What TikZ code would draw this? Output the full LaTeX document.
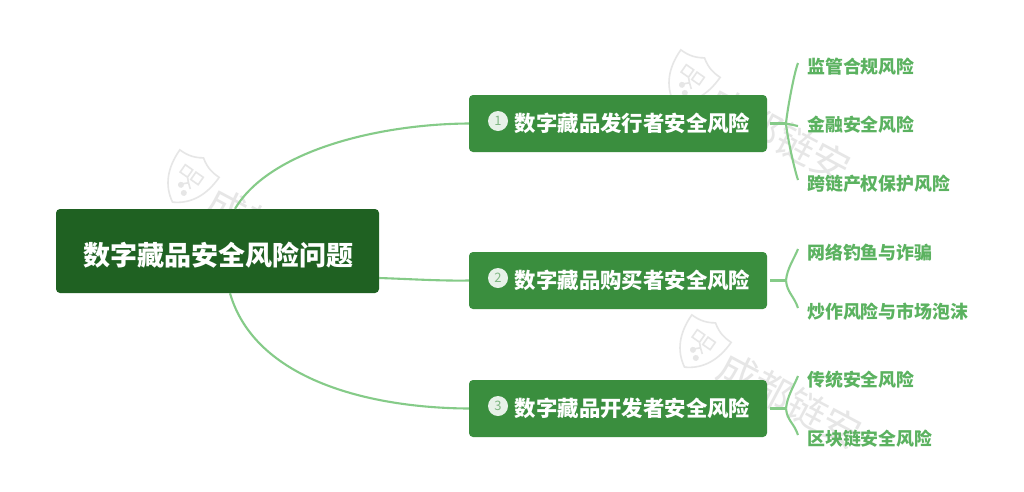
\documentclass[tikz,border=0pt]{standalone}
\usepackage{fontspec}
\setmainfont{Noto Sans CJK SC}
\usepackage{xcolor}
\definecolor{rootgreen}{HTML}{1F6122}
\definecolor{branchgreen}{HTML}{3A8E3E}
\definecolor{linegreen}{HTML}{85CB88}
\definecolor{leafgreen}{HTML}{5BB260}
\definecolor{markgray}{HTML}{E6E6E6}
\tikzset{
 rootbox/.style={fill=rootgreen,rounded corners=4pt,minimum width=323pt,minimum height=84pt,inner sep=0pt,
  text height=28pt,text depth=0pt,text=white,font=\fontsize{27}{27}\selectfont\bfseries},
 branchbox/.style={fill=branchgreen,rounded corners=4pt,minimum width=298pt,minimum height=57pt,inner sep=0pt,
  text=white,font=\fontsize{21.4}{21.4}\selectfont\bfseries},
 numdot/.style={circle,fill=white!88!branchgreen,minimum size=20pt,inner sep=0pt,
  text=branchgreen!65,font=\fontsize{13}{13}\selectfont},
 leaf/.style={anchor=west,inner xsep=9pt,inner ysep=0pt,text=leafgreen,font=\fontsize{17.9}{17.9}\selectfont\bfseries},
 link/.style={draw=linegreen,line width=2.1pt},
 shieldmark/.pic={
  \draw[markgray,line width=1.6pt,rotate=-35] (0,-27) .. controls (10,-20) and (18,-20) .. (24,-20)
   .. controls (24,2) and (16,18) .. (0,27) .. controls (-16,18) and (-24,2) .. (-24,-20)
   .. controls (-18,-20) and (-10,-20) .. (0,-27) -- cycle;
  \draw[markgray,line width=1.6pt,rotate=-35] (-11,-11) rectangle (-2,-2) (2,-11) rectangle (11,-2)
   (-2,-2) -- (2,2) (2,2) -- (7,6) (-2,6) -- (2,2);
  \fill[markgray,rotate=-35] (-3,8) circle (3) (4,13) circle (3);
  \node[rotate=-28,text=markgray,font=\fontsize{39}{39}\selectfont,inner sep=0pt] at (90,55) {成都链安};
 },
}
\begin{document}
\begin{tikzpicture}[x=1pt,y=-1pt]
    \useasboundingbox (0,0) rectangle (1024,491);
    \fill[white] (0,0) rectangle (1024,491);

    \pic at (188,180) {shieldmark};
    \pic at (689,80) {shieldmark};
    \pic at (700,345) {shieldmark};

    \node[rootbox] (root) at (217.5,251) {\hspace*{2pt}数字藏品安全风险问题};

    \foreach \y/\name/\txt[count=\i] in {123.5/dev/发行, 280.5/buy/购买, 408.5/make/开发} {
        \node[branchbox] (\name) at (618,\y) {\hspace*{29pt}数字藏品\txt 者安全风险};
        \node[numdot] (dot\i) at ([xshift=-120pt,yshift=2.5pt]\name.center) {\i};
    }

    \node[leaf] (rule) at (798,67) {监管合规风险};
    \node[leaf] (fin) at (798,125) {金融安全风险};
    \node[leaf] (cross) at (798,184) {跨链产权保护风险};
    \node[leaf] (phish) at (798,253) {网络钓鱼与诈骗};
    \node[leaf] (hype) at (798,312) {炒作风险与市场泡沫};
    \node[leaf] (trad) at (798,380) {传统安全风险};
    \node[leaf] (chain) at (798,439) {区块链安全风险};

    \coordinate (fork1) at (786,123.5);
    \coordinate (fork2) at (786,280.5);
    \coordinate (fork3) at (786,408.5);

    \draw[link] ([xshift=17.5pt]root.north) .. controls (270,150) and (380,124) .. (dev.west);
    \draw[link] ([yshift=-27pt]root.east) .. controls (410,279) and (440,281) .. (buy.west);
    \draw[link] ([xshift=12.5pt]root.south) .. controls (255,380) and (370,408) .. (make.west);

    \foreach \name/\fork in {dev/fork1, buy/fork2, make/fork3} {
        \draw[link,shorten <=3pt] (\name.east) -- (\fork);
    }
    \draw[link] (fork1) -- ([yshift=-1pt]fin.west);
    \foreach \fork/\leafa/\leafb in {fork1/rule/cross, fork2/phish/hype, fork3/trad/chain} {
        \draw[link] (\fork) .. controls +(1,-12) and +(-4,10) .. ([yshift=4pt]\leafa.west);
        \draw[link] (\fork) .. controls +(1,12) and +(-4,-12) .. ([yshift=4pt]\leafb.west);
    }
\end{tikzpicture}
\end{document}
